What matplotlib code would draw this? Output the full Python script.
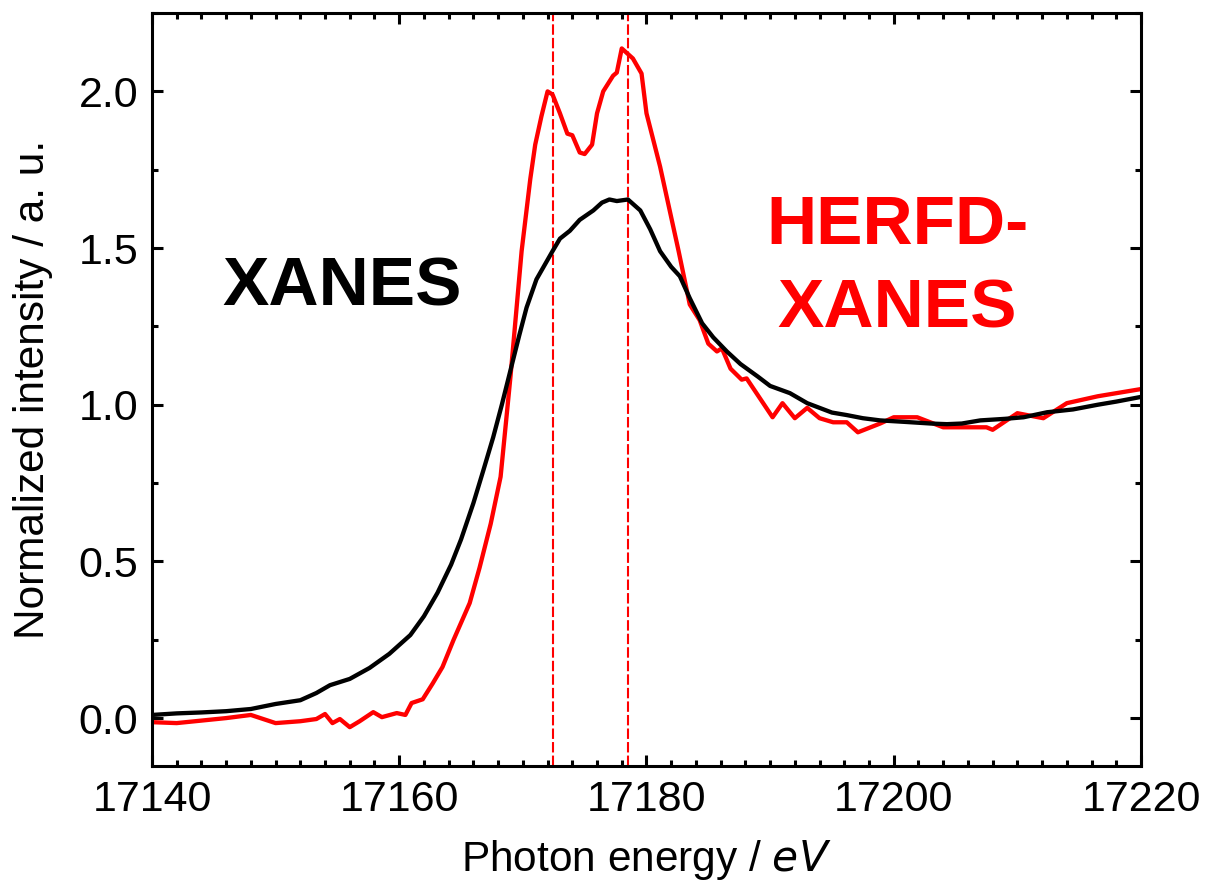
import matplotlib
matplotlib.use("Agg")
import matplotlib.pyplot as plt
from matplotlib.ticker import MultipleLocator

plt.rcParams["font.family"] = ["Liberation Sans", "DejaVu Sans"]

# ---------------------------------------------------------------------------
# Data
# ---------------------------------------------------------------------------
xanes_e = [17140, 17142, 17144, 17146, 17148, 17150, 17152, 17153.3, 17154.4,
           17156, 17157.6, 17159.2, 17160.9, 17162, 17163.1, 17164.2, 17165,
           17166, 17166.8, 17167.6, 17168.3, 17169, 17169.7, 17170.3, 17171.1,
           17172.4, 17173, 17173.8, 17174.6, 17175.7, 17176.4, 17177, 17177.6,
           17178.5, 17179.5, 17180.3, 17181.1, 17182, 17182.7, 17183.5,
           17184.5, 17185.4, 17186.5, 17187.6, 17189, 17190, 17191.6, 17193,
           17194, 17195, 17196.2, 17197.5, 17198.9, 17201, 17203, 17204.3,
           17205.5, 17207, 17209, 17210.5, 17212.4, 17214.5, 17216.5, 17218,
           17220]
xanes_mu = [0.01, 0.015, 0.018, 0.022, 0.029, 0.045, 0.057, 0.08, 0.105,
            0.125, 0.16, 0.205, 0.265, 0.325, 0.40, 0.49, 0.57,
            0.686, 0.79, 0.896, 1.0, 1.11, 1.22, 1.31, 1.40,
            1.49, 1.53, 1.555, 1.59, 1.62, 1.645, 1.655, 1.65,
            1.655, 1.62, 1.56, 1.49, 1.44, 1.41, 1.34,
            1.26, 1.215, 1.17, 1.13, 1.09, 1.06, 1.037, 1.005,
            0.99, 0.975, 0.967, 0.957, 0.95, 0.945, 0.94, 0.938,
            0.94, 0.95, 0.955, 0.96, 0.976, 0.985, 1.0, 1.01,
            1.025]

herfd_e = [17140, 17142, 17144, 17146, 17148, 17150, 17152, 17153.3, 17154,
           17154.6, 17155.2, 17156, 17156.8, 17157.9, 17158.6, 17159.8,
           17160.5, 17161, 17161.9, 17162.7, 17163.5, 17164.4, 17165.7,
           17166.5, 17167.4, 17168.2, 17169, 17169.9, 17170.6, 17171, 17171.5,
           17172, 17172.4, 17173, 17173.6, 17174, 17174.6, 17175, 17175.6,
           17176, 17176.5, 17177.3, 17177.6, 17178, 17178.9, 17179.6, 17180,
           17181.1, 17182.6, 17183.5, 17184.3, 17185, 17185.7, 17186.1,
           17186.8, 17187.7, 17188.1, 17190.2, 17191, 17192, 17193, 17194,
           17195.1, 17196.2, 17197.1, 17198.9, 17200, 17201.9, 17204, 17207.5,
           17208, 17210, 17211.3, 17212.1, 17214, 17216.5, 17220]
herfd_mu = [-0.013, -0.016, -0.008, 0.0, 0.01, -0.016, -0.01, -0.003, 0.013,
            -0.016, -0.003, -0.029, -0.01, 0.019, 0.003, 0.016,
            0.01, 0.048, 0.06, 0.11, 0.163, 0.25, 0.367,
            0.48, 0.62, 0.77, 1.09, 1.49, 1.72, 1.83, 1.92,
            2.0, 1.99, 1.93, 1.865, 1.86, 1.805, 1.80, 1.83,
            1.93, 2.0, 2.05, 2.06, 2.137, 2.105, 2.057, 1.93,
            1.76, 1.49, 1.32, 1.27, 1.195, 1.17, 1.18,
            1.115, 1.08, 1.084, 0.96, 1.005, 0.957, 0.99, 0.957,
            0.944, 0.944, 0.912, 0.94, 0.96, 0.96, 0.928, 0.928,
            0.92, 0.973, 0.963, 0.957, 1.005, 1.027, 1.05]

peak_lines = [17172.4, 17178.5]

# ---------------------------------------------------------------------------
# Style
# ---------------------------------------------------------------------------
RED = "#FF0000"
FS_TICK = 31
FS_LABEL = 30.5
FS_TAG = 50

fig = plt.figure(figsize=(12.05, 8.81), dpi=100)
ax = fig.add_axes([0.1261, 0.1305, 0.8208, 0.8547])

ax.plot(xanes_e, xanes_mu, color="black", lw=3.1, zorder=3)
ax.plot(herfd_e, herfd_mu, color=RED, lw=3.1, zorder=2)
for xv in peak_lines:
    ax.axvline(xv, color=RED, lw=1.5, ls=(0, (5, 1.5)), zorder=1)

ax.set_xlim(17140, 17220)
ax.set_ylim(-0.153, 2.25)
ax.xaxis.set_major_locator(MultipleLocator(20))
ax.xaxis.set_minor_locator(MultipleLocator(2))
ax.yaxis.set_major_locator(MultipleLocator(0.5))
ax.yaxis.set_minor_locator(MultipleLocator(0.25))
ax.yaxis.set_major_formatter(matplotlib.ticker.FormatStrFormatter("%.1f"))

ax.tick_params(which="both", direction="in", top=True, right=True,
               width=2.2, labelsize=FS_TICK)
ax.tick_params(which="major", length=8, pad=10)
ax.tick_params(which="minor", length=4)
for sp in ax.spines.values():
    sp.set_linewidth(2.2)

ax.set_xlabel("Photon energy / $\\mathit{eV}$", fontsize=FS_LABEL, labelpad=13)
ax.set_ylabel("Normalized intensity / a. u.", fontsize=FS_LABEL, labelpad=18)

ax.text(17155.4, 1.317, "XANES", fontsize=FS_TAG, fontweight="bold",
        color="black", ha="center", va="baseline")
# baseline of the last line sits at the given y
ax.text(17200.3, 1.247, "HERFD-\nXANES", fontsize=FS_TAG, fontweight="bold",
        color=RED, ha="center", va="baseline", linespacing=1.38)

fig.savefig("out.png", dpi=100)
